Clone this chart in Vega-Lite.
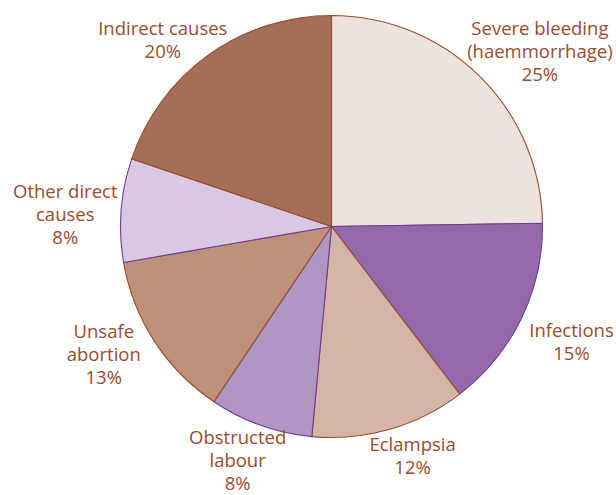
{
  "$schema": "https://vega.github.io/schema/vega-lite/v6.json",
  "width": 569,
  "height": 453,
  "autosize": "none",
  "padding": {"left": 47, "top": 0, "right": 0, "bottom": 42},
  "background": "white",
  "config": {
    "text": {"font": "Open Sans", "fontSize": 18.5, "lineHeight": 23, "color": "#9A4B30", "align": "center", "baseline": "middle", "lineBreak": "\n"}
  },
  "data": {"values": [
    {"order": 1, "cause": "Severe bleeding (haemmorrhage)", "label": "Severe bleeding\n(haemmorrhage)\n25%", "percent": 25},
    {"order": 2, "cause": "Infections", "label": "Infections\n15%", "percent": 15},
    {"order": 3, "cause": "Eclampsia", "label": "Eclampsia\n12%", "percent": 12},
    {"order": 4, "cause": "Obstructed labour", "label": "Obstructed\nlabour\n8%", "percent": 8},
    {"order": 5, "cause": "Unsafe abortion", "label": "Unsafe\nabortion\n13%", "percent": 13},
    {"order": 6, "cause": "Other direct causes", "label": "Other direct\ncauses\n8%", "percent": 8},
    {"order": 7, "cause": "Indirect causes", "label": "Indirect causes\n20%", "percent": 20}
  ]},
  "encoding": {
    "theta": {"field": "percent", "type": "quantitative", "stack": true},
    "order": {"field": "order", "type": "quantitative"}
  },
  "layer": [
    {
      "mark": {"type": "arc", "radius": 211, "strokeWidth": 1.1},
      "encoding": {
        "color": {
          "field": "cause", "type": "nominal", "legend": null,
          "scale": {
            "domain": ["Severe bleeding (haemmorrhage)", "Infections", "Eclampsia", "Obstructed labour", "Unsafe abortion", "Other direct causes", "Indirect causes"],
            "range": ["#EDE3DE", "#9369AA", "#D3B5A8", "#B196C5", "#BC907A", "#D8C8E2", "#A56F57"]
          }
        },
        "stroke": {
          "field": "cause", "type": "nominal", "legend": null,
          "scale": {
            "domain": ["Severe bleeding (haemmorrhage)", "Infections", "Eclampsia", "Obstructed labour", "Unsafe abortion", "Other direct causes", "Indirect causes"],
            "range": ["#9C4A2A", "#6A3D9A", "#9C4A2A", "#6A3D9A", "#9C4A2A", "#6A3D9A", "#9C4A2A"]
          }
        }
      }
    },
    {
      "mark": {"type": "text", "radius": 250, "dx": 33, "dy": -19},
      "encoding": {"text": {"condition": {"test": "datum.order === 1", "field": "label", "type": "nominal"}, "value": ""}}
    },
    {
      "mark": {"type": "text", "radius": 250, "dx": 15, "dy": -4},
      "encoding": {"text": {"condition": {"test": "datum.order === 2", "field": "label", "type": "nominal"}, "value": ""}}
    },
    {
      "mark": {"type": "text", "radius": 250, "dx": 12, "dy": -22},
      "encoding": {"text": {"condition": {"test": "datum.order === 3", "field": "label", "type": "nominal"}, "value": ""}}
    },
    {
      "mark": {"type": "text", "radius": 250, "dx": -10, "dy": -24},
      "encoding": {"text": {"condition": {"test": "datum.order === 4", "field": "label", "type": "nominal"}, "value": ""}}
    },
    {
      "mark": {"type": "text", "radius": 250, "dx": -18, "dy": -31},
      "encoding": {"text": {"condition": {"test": "datum.order === 5", "field": "label", "type": "nominal"}, "value": ""}}
    },
    {
      "mark": {"type": "text", "radius": 250, "dx": -17, "dy": -15},
      "encoding": {"text": {"condition": {"test": "datum.order === 6", "field": "label", "type": "nominal"}, "value": ""}}
    },
    {
      "mark": {"type": "text", "radius": 250, "dx": -23, "dy": 6},
      "encoding": {"text": {"condition": {"test": "datum.order === 7", "field": "label", "type": "nominal"}, "value": ""}}
    }
  ]
}
